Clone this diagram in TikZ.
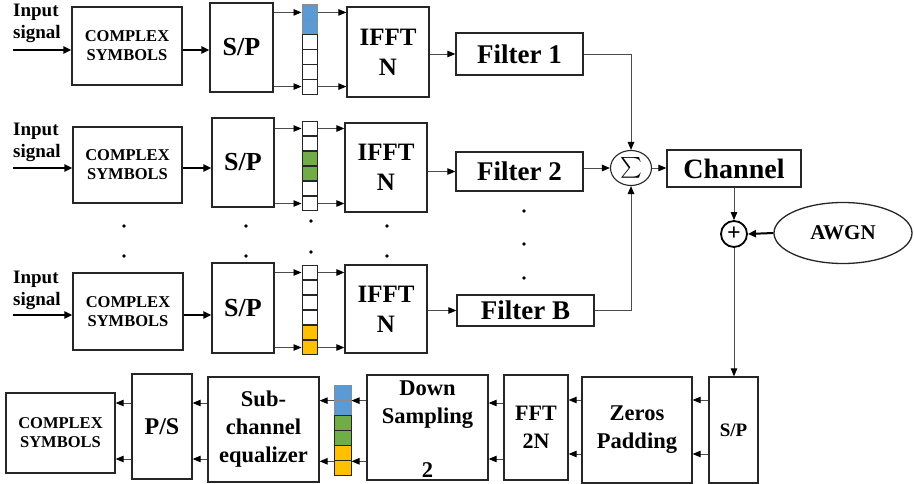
\documentclass[tikz,border=0pt]{standalone}
\usepackage{amsmath}
\usepackage{fontspec}
\setmainfont{Liberation Serif}
\usetikzlibrary{arrows.meta,shapes.geometric}
\definecolor{cblue}{HTML}{5B9BD5}
\definecolor{cgreen}{HTML}{70AD47}
\definecolor{cyell}{HTML}{FFC000}
\newcommand{\fsz}[1]{\fontsize{#1}{#1}\selectfont\bfseries}
\tikzset{
  box/.style={draw=black!85,line width=1.3pt,inner sep=0pt,align=center},
  cellbox/.style={draw=black!85,line width=1pt,minimum width=15pt,minimum height=14.9pt,inner sep=0pt},
  arr/.style={draw=black!70,line width=0.9pt,-{Triangle[length=8pt,width=6.5pt,color=black]}},
  tarr/.style={draw=black,line width=2pt,-{Triangle[length=8pt,width=7pt,color=black]}},
  dotc/.style={circle,fill=black,inner sep=0pt,minimum size=3.6pt},
  intext/.style={align=left,anchor=west,inner sep=0pt,font=\fontsize{19}{22}\selectfont\bfseries},
  cplx/.style={box,font=\fontsize{16.5}{19}\selectfont\bfseries},
  sptext/.style={box,font=\fsz{26}},
  ifft/.style={box,font=\fontsize{25}{30}\selectfont\bfseries},
  filt/.style={box,font=\fsz{27}},
  btm/.style={box,font=\fontsize{22.5}{28}\selectfont\bfseries}
}
\begin{document}
\begin{tikzpicture}[x=1pt,y=-1pt]
\useasboundingbox (0,0) rectangle (914,484);

% ---------- row A ----------
\node[intext] (inA) at (13,23) {Input\\signal};
\coordinate (sA) at (13,50);
\node[cplx,minimum width=110pt,minimum height=78pt] (cA) at (127,46) {COMPLEX\\SYMBOLS};
\node[sptext,minimum width=63pt,minimum height=89pt] (spA) at (241.5,47.5) {S/P};
\foreach \i/\c/\d in {1/cblue/black!45,2/cblue/black!45,3/white/black!85,4/white/black!85,5/white/black!85,6/white/black!85}
  \node[cellbox,fill=\c,draw=\d] (colA\i) at (309.5,{5+14.83*(\i-0.5)}) {};
\node[ifft,minimum width=82pt,minimum height=90pt] (ifA) at (388,52) {IFFT\\N};

% ---------- row B ----------
\node[intext] (inB) at (13,142) {Input\\signal};
\coordinate (sB) at (13,168);
\node[cplx,minimum width=109pt,minimum height=76pt] (cB) at (127.5,165) {COMPLEX\\SYMBOLS};
\node[sptext,minimum width=62pt,minimum height=89pt] (spB) at (243,162.5) {S/P};
\foreach \i/\c in {1/white,2/white,3/cgreen,4/cgreen,5/white,6/white}
  \node[cellbox,fill=\c] (colB\i) at (309.5,{121+15*(\i-0.5)}) {};
\node[ifft,minimum width=82pt,minimum height=89pt] (ifB) at (386,167.5) {IFFT\\N};

% ---------- row C ----------
\node[intext] (inC) at (13,290) {Input\\signal};
\coordinate (sC) at (13,315);
\node[cplx,minimum width=110pt,minimum height=77pt] (cC) at (128,311.5) {COMPLEX\\SYMBOLS};
\node[sptext,minimum width=62pt,minimum height=90pt] (spC) at (243,308) {S/P};
\foreach \i/\c in {1/white,2/white,3/white,4/white,5/cyell,6/cyell}
  \node[cellbox,fill=\c] (colC\i) at (309.5,{265+15*(\i-0.5)}) {};
\node[ifft,minimum width=82pt,minimum height=88pt] (ifC) at (386,309) {IFFT\\N};

% ---------- filters, sum, channel ----------
\node[filt,minimum width=127pt,minimum height=42pt] (f1) at (519.5,54) {Filter 1};
\node[filt,minimum width=127pt,minimum height=39pt] (f2) at (519.5,171.5) {Filter 2};
\node[filt,minimum width=137pt,minimum height=31pt] (fB) at (525.5,310.5) {Filter B};
\node[draw=black!85,ellipse,line width=1.1pt,minimum width=41pt,minimum height=35pt,inner sep=0pt,font=\fontsize{22}{22}\selectfont] (sum) at (631,168) {$\sum$};
\node[box,font=\fsz{28},minimum width=134pt,minimum height=37pt] (ch) at (734,168.5) {Channel};
\node[circle,draw=black,line width=1.8pt,minimum size=26pt,inner sep=0pt,font=\fsz{24}] (plus) at (734,234) {+};
\node[draw=black!85,ellipse,line width=1.3pt,minimum width=138pt,minimum height=61pt,inner sep=0pt,font=\fsz{21}] (awgn) at (843,233) {AWGN};

% ---------- bottom row ----------
\node[cplx,minimum width=109pt,minimum height=80pt] (cD) at (60.5,433) {COMPLEX\\SYMBOLS};
\node[box,font=\fsz{24},minimum width=60pt,minimum height=105pt] (ps) at (162,426.5) {P/S};
\node[btm,minimum width=111pt,minimum height=105pt] (eq) at (263.5,429.5) {Sub-\\channel\\equalizer};
\foreach \i/\c/\d in {1/cblue/black!45,2/cblue/black!45,3/cgreen/black!85,4/cgreen/black!85,5/cyell/black!85,6/cyell/black!85}
  \node[cellbox,fill=\c,draw=\d,minimum width=17pt,minimum height=15.1pt] (colD\i) at (342.5,{385+15.17*(\i-0.5)}) {};
\node[box,minimum width=121pt,minimum height=105pt] (ds) at (427.5,427.5) {};
\node[anchor=base,inner sep=0pt,font=\fsz{22.5}] (dsa) at (427.5,395) {Down};
\node[anchor=base,inner sep=0pt,font=\fsz{22.5}] (dsb) at (427.5,423) {Sampling};
\node[anchor=base,inner sep=0pt,font=\fsz{22.5}] (dsc) at (427.5,477) {2};
\node[box,font=\fontsize{22}{28}\selectfont\bfseries,minimum width=64pt,minimum height=105pt] (fft) at (536,427.5) {FFT\\2N};
\node[btm,minimum width=110pt,minimum height=106pt] (zp) at (637,430) {Zeros\\Padding};
\node[box,font=\fsz{19},minimum width=49pt,minimum height=106pt] (sp2) at (733.5,430) {S/P};

% ---------- dots ----------
\foreach \x/\y in {124/226,124/256,246/226,246/256,311/221,311/252,387/226,387/256,524/211,524/244,524/278}
  \node[dotc] at (\x,\y) {};

% ---------- connectors rows ----------
\foreach \r/\f in {A/f1,B/f2,C/fB}{
  \draw[tarr] (s\r) -- (s\r -| c\r.west);
  \draw[tarr] (s\r -| c\r.east) -- (s\r -| sp\r.west);
  \draw[arr] (sp\r.east |- col\r1) -- (col\r1.west);
  \draw[arr] (sp\r.east |- col\r6) -- (col\r6.west);
  \draw[arr] (col\r1.east) -- (col\r1.east -| if\r.west);
  \draw[arr] (col\r6.east) -- (col\r6.east -| if\r.west);
  \draw[arr] (if\r.east |- \f.west) -- (\f.west);
}
\draw[arr] (f1.east) -| (sum.north);
\draw[arr] (fB.east) -| (sum.south);
\draw[arr] (f2.east |- sum.west) -- (sum.west);
\draw[arr] (sum.east) -- (ch.west |- sum.east);
\draw[arr] (ch.south) -- (plus.north);
\draw[tarr] (awgn.west) -- (plus.east);
\draw[arr] (plus.south) -- (plus.south |- sp2.north);

% ---------- bottom connectors ----------
\foreach \y in {400,454}{
  \draw[arr] (sp2.west |- 0,\y) -- (zp.east |- 0,\y);
  \draw[arr] (zp.west |- 0,\y) -- (fft.east |- 0,\y);
}
\draw[arr] (fft.west |- 0,403) -- (ds.east |- 0,403);
\draw[arr] (fft.west |- 0,459) -- (ds.east |- 0,459);
\draw[arr] (ds.west |- colD1.south) -- (colD1.south east);
\draw[arr] (ds.west |- colD5.south) -- (colD5.south east);
\draw[arr] (colD1.south west) -- (colD1.south west -| eq.east);
\draw[arr] (colD5.south west) -- (colD5.south west -| eq.east);
\foreach \y in {403,459}{
  \draw[arr] (eq.west |- 0,\y) -- (ps.east |- 0,\y);
  \draw[arr] (ps.west |- 0,\y) -- (cD.east |- 0,\y);
}
\end{tikzpicture}
\end{document}
